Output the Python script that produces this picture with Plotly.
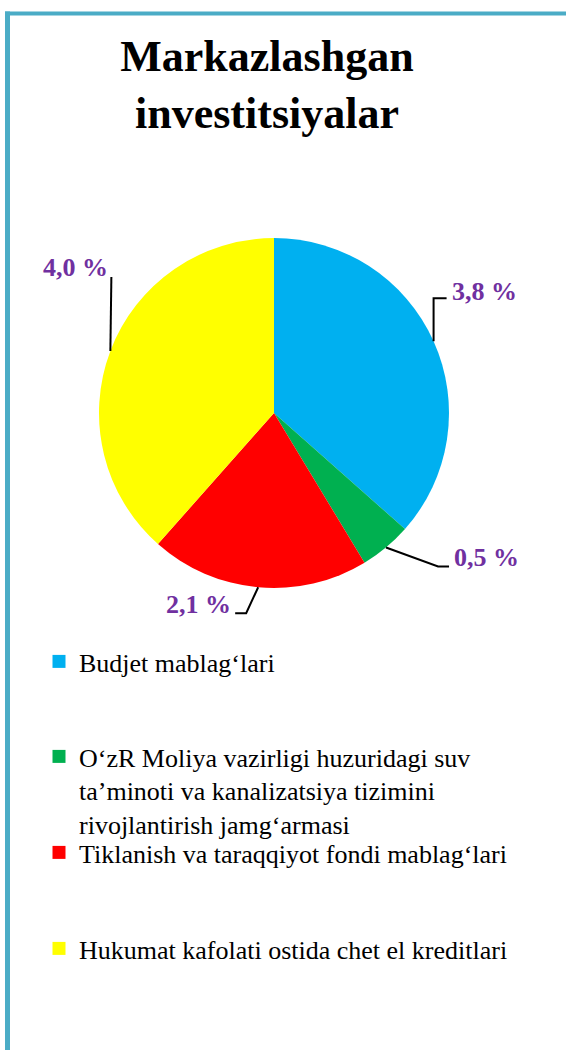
import numpy as np
import plotly.graph_objects as go

# ---- data ----
categories = [
    "Budjet mablag‘lari",
    "O‘zR Moliya vazirligi huzuridagi suv<br>ta’minoti va kanalizatsiya tizimini<br>rivojlantirish jamg‘armasi",
    "Tiklanish va taraqqiyot fondi mablag‘lari",
    "Hukumat kafolati ostida chet el kreditlari",
]
values = [3.8, 0.5, 2.1, 4.0]
colors = ["#00B0F0", "#00B050", "#FF0000", "#FFFF00"]
title_text = "Markazlashgan<br>investitsiyalar"

# ---- layout constants (pixels) ----
W, H = 566, 1050
CX, CY, R = 274, 413, 175
LABEL_COLOR = "#7030A0"
SERIF = "Liberation Serif"
BORDER = "#4BACC6"

def px(x):
    return x / W

def py(y):
    return 1 - y / H

# leader line elbows/ends relative to slice-midpoint start (style offsets)
leader_offsets = [
    [(0, -43), (13, -43)],
    [(52, 19), (63, 19)],
    [(-12, 26), (-23, 26)],
    [(1, -74), (1, -74)],
]
# label anchor relative to leader end: (dx, dy, xanchor)
label_offsets = [(3, -7, "left"), (3, -9, "left"), (-2, -9, "right"), (-1, -9, "right")]
# legend first-line centre y (pixels)
legend_y = [664, 759, 855, 951]
LEGEND_TEXT_X = 79

fig = go.Figure()
fig.add_trace(go.Pie(
    labels=categories, values=values, sort=False, direction="clockwise", rotation=0,
    marker=dict(colors=colors, line=dict(width=0)), textinfo="none", showlegend=False,
    domain=dict(x=[px(CX - R), px(CX + R)], y=[py(CY + R), py(CY - R)]),
    hoverinfo="label+value",
))

total = float(np.sum(values))
cum = np.concatenate([[0.0], np.cumsum(values)[:-1]])
shapes = []
annotations = []
for i, v in enumerate(values):
    th = 2 * np.pi * (cum[i] + v / 2) / total
    sx, sy = CX + R * np.sin(th), CY - R * np.cos(th)
    pts = [(sx, sy)] + [(sx + dx, sy + dy) for dx, dy in leader_offsets[i]]
    path = "M " + " L ".join(f"{px(x):.5f},{py(y):.5f}" for x, y in pts)
    shapes.append(dict(type="path", path=path, xref="paper", yref="paper",
                       line=dict(color="black", width=2)))
    ex, ey = pts[-1]
    ldx, ldy, anc = label_offsets[i]
    annotations.append(dict(
        text="<b>" + f"{v:.1f}".replace(".", ",") + " %</b>", x=px(ex + ldx), y=py(ey + ldy),
        xref="paper", yref="paper", xanchor=anc, yanchor="middle", showarrow=False,
        font=dict(family=SERIF, size=26, color=LABEL_COLOR),
    ))

# border lines
shapes.append(dict(type="line", xref="paper", yref="paper", x0=px(7.5), x1=px(7.5),
                   y0=py(11.5), y1=py(1060), line=dict(color=BORDER, width=5)))
shapes.append(dict(type="line", xref="paper", yref="paper", x0=px(5), x1=px(570),
                   y0=py(13.5), y1=py(13.5), line=dict(color=BORDER, width=4)))

# legend entries (one legend per entry so spacing matches the original)
legend_layout = {}
for i, (cat, col) in enumerate(zip(categories, colors)):
    lname = "legend" if i == 0 else f"legend{i + 1}"
    fig.add_trace(go.Scatter(
        x=[None], y=[None], mode="markers", name=cat, legend=lname,
        marker=dict(symbol="square", size=13, color=col, line=dict(width=0)),
        hoverinfo="skip",
    ))
    legend_layout[lname] = dict(
        x=px(LEGEND_TEXT_X - 40), y=py(legend_y[i] - 26), xanchor="left", yanchor="top",
        bgcolor="rgba(0,0,0,0)", borderwidth=0, valign="top",
        font=dict(family=SERIF, size=26, color="black"),
    )

fig.update_layout(
    width=W, height=H, margin=dict(l=0, r=0, t=0, b=0),
    paper_bgcolor="white", plot_bgcolor="white",
    font=dict(family=SERIF, color="black"),
    title=dict(text=f"<b>{title_text}</b>", x=px(267), xanchor="center", y=py(71), yanchor="top",
               font=dict(family=SERIF, size=44, color="black")),
    xaxis=dict(visible=False), yaxis=dict(visible=False),
    shapes=shapes, annotations=annotations,
    **legend_layout,
)

fig.write_html("out.html", config={"displayModeBar": False},
               post_script="document.body.style.margin='0';")
